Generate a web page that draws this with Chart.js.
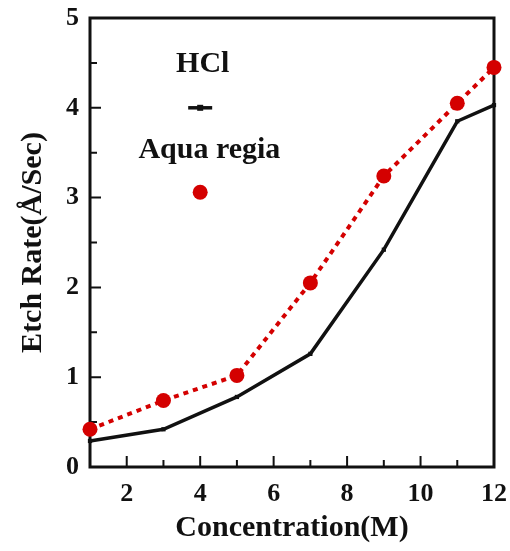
<!DOCTYPE html>
<html>
<head>
<meta charset="utf-8">
<script src="https://cdn.jsdelivr.net/npm/chart.js@4.4.1/dist/chart.umd.min.js"></script>
<style>
  html, body { margin: 0; padding: 0; background: #fff; }
  #wrap { width: 510px; height: 551px; }
</style>
</head>
<body>
<div id="wrap"><canvas id="etchChart" width="510" height="551"></canvas></div>
<script>
// Data
const concentration = [1, 3, 5, 7, 9, 11, 12];
const hclRate = [0.29, 0.42, 0.78, 1.26, 2.42, 3.85, 4.03];
const aquaRegiaRate = [0.42, 0.74, 1.02, 2.05, 3.24, 4.05, 4.45];

// Axis ticks
const xTickLabels = [2, 4, 6, 8, 10, 12];
const xMinorTicks = [3, 5, 7, 9, 11];
const yTickLabels = [0, 1, 2, 3, 4, 5];
const yMinorTicks = [0.5, 1.5, 2.5, 3.5, 4.5];

const serif = "'Liberation Serif', 'Times New Roman', serif";
const red = '#d40000';

// Draw the frame and the inward ticks
const framePlugin = {
    id: 'frame',
    beforeDatasetsDraw(chart) {
        const { ctx, chartArea: a, scales: { x, y } } = chart;
        ctx.save();
        ctx.strokeStyle = '#111';
        ctx.lineWidth = 3;
        ctx.strokeRect(a.left, a.top, a.right - a.left, a.bottom - a.top);
        ctx.lineWidth = 2;
        ctx.beginPath();
        xTickLabels.forEach(v => {
            const px = x.getPixelForValue(v);
            ctx.moveTo(px, a.bottom); ctx.lineTo(px, a.bottom - 11);
        });
        xMinorTicks.forEach(v => {
            const px = x.getPixelForValue(v);
            ctx.moveTo(px, a.bottom); ctx.lineTo(px, a.bottom - 7);
        });
        yTickLabels.forEach(v => {
            const py = y.getPixelForValue(v);
            ctx.moveTo(a.left, py); ctx.lineTo(a.left + 11, py);
        });
        yMinorTicks.forEach(v => {
            const py = y.getPixelForValue(v);
            ctx.moveTo(a.left, py); ctx.lineTo(a.left + 7, py);
        });
        ctx.stroke();
        ctx.restore();
    }
};

// Legend drawn inside the plot, as in the figure
const legendPlugin = {
    id: 'inlineLegend',
    afterDatasetsDraw(chart) {
        const { ctx, scales: { x, y } } = chart;
        ctx.save();
        ctx.font = 'bold 30px ' + serif;
        ctx.fillStyle = '#111';
        ctx.textAlign = 'center';
        ctx.textBaseline = 'middle';
        ctx.fillText('HCl', x.getPixelForValue(4.07), y.getPixelForValue(4.48));
        ctx.fillText('Aqua regia', x.getPixelForValue(4.25), y.getPixelForValue(3.53));

        // HCl symbol
        const lx = x.getPixelForValue(4);
        const ly = y.getPixelForValue(4.0);
        ctx.strokeStyle = '#111';
        ctx.lineWidth = 3.5;
        ctx.beginPath();
        ctx.moveTo(lx - 12, ly); ctx.lineTo(lx + 12, ly);
        ctx.stroke();
        ctx.fillRect(lx - 3, ly - 3, 6, 6);

        // Aqua regia symbol
        ctx.fillStyle = red;
        ctx.beginPath();
        ctx.arc(lx, y.getPixelForValue(3.06), 7.5, 0, Math.PI * 2);
        ctx.fill();
        ctx.restore();
    }
};

const tickFont = { family: serif, size: 26, weight: 'bold' };
const titleFont = { family: serif, size: 30, weight: 'bold', lineHeight: 1 };

new Chart(document.getElementById('etchChart'), {
    type: 'line',
    data: {
        datasets: [
            {
                label: 'Aqua regia',
                data: concentration.map((c, i) => ({ x: c, y: aquaRegiaRate[i] })),
                borderColor: red,
                backgroundColor: red,
                borderWidth: 4,
                borderDash: [5, 5],
                pointRadius: 7.5,
                pointHoverRadius: 7.5,
                pointBorderWidth: 0,
                clip: false
            },
            {
                label: 'HCl',
                data: concentration.map((c, i) => ({ x: c, y: hclRate[i] })),
                borderColor: '#111',
                backgroundColor: '#111',
                borderWidth: 3.5,
                pointStyle: 'rect',
                pointRadius: 3,
                pointHoverRadius: 3,
                pointBorderWidth: 0,
                clip: false
            }
        ]
    },
    options: {
        responsive: false,
        animation: false,
        events: [],
        layout: { padding: { top: 18, right: 16, left: 0, bottom: 0 } },
        plugins: {
            legend: { display: false },
            tooltip: { enabled: false }
        },
        scales: {
            x: {
                type: 'linear',
                min: 1,
                max: 12,
                afterBuildTicks: scale => {
                    scale.ticks = xTickLabels.map(v => ({ value: v }));
                },
                afterFit: scale => {
                    scale.height = 84;
                    scale.paddingLeft = 0;
                    scale.paddingRight = 0;
                },
                grid: { display: false, drawTicks: false },
                border: { display: false },
                ticks: { color: '#111', font: tickFont, padding: 12, maxRotation: 0, autoSkip: false },
                title: {
                    display: true,
                    text: 'Concentration(M)',
                    color: '#111',
                    font: titleFont,
                    padding: { top: 0, bottom: 8 }
                }
            },
            y: {
                min: 0,
                max: 5,
                afterBuildTicks: scale => {
                    scale.ticks = yTickLabels.map(v => ({ value: v }));
                },
                afterFit: scale => {
                    scale.width = 90;
                    scale.paddingTop = 0;
                    scale.paddingBottom = 0;
                },
                grid: { display: false, drawTicks: false },
                border: { display: false },
                ticks: { color: '#111', font: tickFont, padding: 11 },
                title: {
                    display: true,
                    text: 'Etch Rate(Å/Sec)',
                    color: '#111',
                    font: titleFont,
                    padding: { top: 18, bottom: 0 }
                }
            }
        }
    },
    plugins: [framePlugin, legendPlugin]
});
</script>
</body>
</html>
